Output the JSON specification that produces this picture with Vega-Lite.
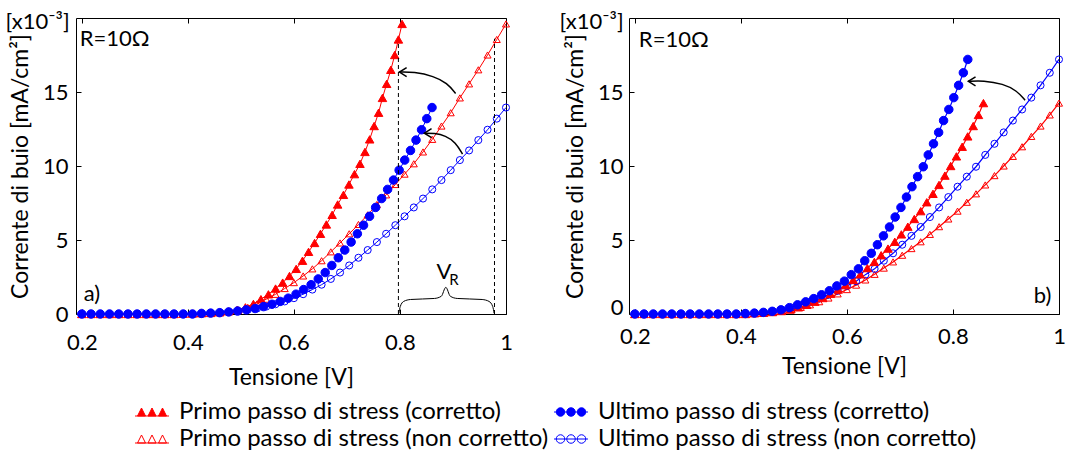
{
"$schema":"https://vega.github.io/schema/vega-lite/v6.json",
"padding":{"left":4,"top":10,"right":5,"bottom":5},
"spacing":46,
"config":{"font":"Lato","view":{"stroke":"black","strokeWidth":1},
"axis":{"grid":false,"domain":false,"tickColor":"black","labelColor":"black","titleColor":"black","labelFont":"Lato","titleFont":"Lato","labelFontSize":22,"titleFontSize":23,"titleFontWeight":"normal","tickSize":5,"offset":-5,"labelFlush":false}},
"resolve":{"scale":{"x":"independent","y":"independent","color":"independent","fill":"shared","stroke":"shared"},"legend":{"fill":"shared","stroke":"shared"}},
"datasets":{
"curves":[
{"p":"a","s":"P0","x":0.2,"y":0},{"p":"a","s":"P0","x":0.2174,"y":0},{"p":"a","s":"P0","x":0.2348,"y":0},{"p":"a","s":"P0","x":0.2522,"y":0},{"p":"a","s":"P0","x":0.2696,"y":0},{"p":"a","s":"P0","x":0.287,"y":0},{"p":"a","s":"P0","x":0.3043,"y":0},{"p":"a","s":"P0","x":0.3217,"y":0},{"p":"a","s":"P0","x":0.3391,"y":0},{"p":"a","s":"P0","x":0.3565,"y":0},{"p":"a","s":"P0","x":0.3739,"y":0},{"p":"a","s":"P0","x":0.3913,"y":0.02},{"p":"a","s":"P0","x":0.4087,"y":0.03},{"p":"a","s":"P0","x":0.4261,"y":0.05},{"p":"a","s":"P0","x":0.4435,"y":0.07},{"p":"a","s":"P0","x":0.4609,"y":0.11},{"p":"a","s":"P0","x":0.4783,"y":0.18},{"p":"a","s":"P0","x":0.4957,"y":0.28},{"p":"a","s":"P0","x":0.513,"y":0.45},{"p":"a","s":"P0","x":0.5304,"y":0.68},{"p":"a","s":"P0","x":0.5478,"y":1.0},{"p":"a","s":"P0","x":0.5652,"y":1.33},{"p":"a","s":"P0","x":0.5826,"y":1.72},{"p":"a","s":"P0","x":0.6,"y":2.12},{"p":"a","s":"P0","x":0.6174,"y":2.57},{"p":"a","s":"P0","x":0.6348,"y":3.05},{"p":"a","s":"P0","x":0.6522,"y":3.6},{"p":"a","s":"P0","x":0.6696,"y":4.2},{"p":"a","s":"P0","x":0.687,"y":4.8},{"p":"a","s":"P0","x":0.7043,"y":5.42},{"p":"a","s":"P0","x":0.7217,"y":6.05},{"p":"a","s":"P0","x":0.7391,"y":6.7},{"p":"a","s":"P0","x":0.7565,"y":7.4},{"p":"a","s":"P0","x":0.7739,"y":8.05},{"p":"a","s":"P0","x":0.7913,"y":8.75},{"p":"a","s":"P0","x":0.8087,"y":9.45},{"p":"a","s":"P0","x":0.8261,"y":10.15},{"p":"a","s":"P0","x":0.8435,"y":10.95},{"p":"a","s":"P0","x":0.8609,"y":11.8},{"p":"a","s":"P0","x":0.8783,"y":12.7},{"p":"a","s":"P0","x":0.8957,"y":13.6},{"p":"a","s":"P0","x":0.913,"y":14.6},{"p":"a","s":"P0","x":0.9304,"y":15.55},{"p":"a","s":"P0","x":0.9478,"y":16.5},{"p":"a","s":"P0","x":0.9652,"y":17.5},{"p":"a","s":"P0","x":0.9826,"y":18.55},{"p":"a","s":"P0","x":1.0,"y":19.6},
{"p":"a","s":"P1","x":0.2,"y":0},{"p":"a","s":"P1","x":0.2174,"y":0},{"p":"a","s":"P1","x":0.2348,"y":0},{"p":"a","s":"P1","x":0.2522,"y":0},{"p":"a","s":"P1","x":0.2696,"y":0},{"p":"a","s":"P1","x":0.287,"y":0},{"p":"a","s":"P1","x":0.3043,"y":0},{"p":"a","s":"P1","x":0.3217,"y":0},{"p":"a","s":"P1","x":0.3391,"y":0},{"p":"a","s":"P1","x":0.3565,"y":0},{"p":"a","s":"P1","x":0.3739,"y":0},{"p":"a","s":"P1","x":0.3911,"y":0.02},{"p":"a","s":"P1","x":0.4084,"y":0.03},{"p":"a","s":"P1","x":0.4256,"y":0.05},{"p":"a","s":"P1","x":0.4428,"y":0.07},{"p":"a","s":"P1","x":0.4598,"y":0.11},{"p":"a","s":"P1","x":0.4765,"y":0.18},{"p":"a","s":"P1","x":0.4929,"y":0.28},{"p":"a","s":"P1","x":0.5085,"y":0.45},{"p":"a","s":"P1","x":0.5236,"y":0.68},{"p":"a","s":"P1","x":0.5378,"y":1.0},{"p":"a","s":"P1","x":0.5519,"y":1.33},{"p":"a","s":"P1","x":0.5654,"y":1.72},{"p":"a","s":"P1","x":0.5788,"y":2.12},{"p":"a","s":"P1","x":0.5917,"y":2.57},{"p":"a","s":"P1","x":0.6043,"y":3.05},{"p":"a","s":"P1","x":0.6162,"y":3.6},{"p":"a","s":"P1","x":0.6276,"y":4.2},{"p":"a","s":"P1","x":0.639,"y":4.8},{"p":"a","s":"P1","x":0.6501,"y":5.42},{"p":"a","s":"P1","x":0.6612,"y":6.05},{"p":"a","s":"P1","x":0.6721,"y":6.7},{"p":"a","s":"P1","x":0.6825,"y":7.4},{"p":"a","s":"P1","x":0.6934,"y":8.05},{"p":"a","s":"P1","x":0.7038,"y":8.75},{"p":"a","s":"P1","x":0.7142,"y":9.45},{"p":"a","s":"P1","x":0.7246,"y":10.15},{"p":"a","s":"P1","x":0.734,"y":10.95},{"p":"a","s":"P1","x":0.7429,"y":11.8},{"p":"a","s":"P1","x":0.7513,"y":12.7},{"p":"a","s":"P1","x":0.7597,"y":13.6},{"p":"a","s":"P1","x":0.767,"y":14.6},{"p":"a","s":"P1","x":0.7749,"y":15.55},{"p":"a","s":"P1","x":0.7828,"y":16.5},{"p":"a","s":"P1","x":0.7902,"y":17.5},{"p":"a","s":"P1","x":0.7971,"y":18.55},{"p":"a","s":"P1","x":0.804,"y":19.6},
{"p":"a","s":"U0","x":0.2,"y":0},{"p":"a","s":"U0","x":0.2174,"y":0},{"p":"a","s":"U0","x":0.2348,"y":0},{"p":"a","s":"U0","x":0.2522,"y":0},{"p":"a","s":"U0","x":0.2696,"y":0},{"p":"a","s":"U0","x":0.287,"y":0},{"p":"a","s":"U0","x":0.3043,"y":0},{"p":"a","s":"U0","x":0.3217,"y":0},{"p":"a","s":"U0","x":0.3391,"y":0},{"p":"a","s":"U0","x":0.3565,"y":0},{"p":"a","s":"U0","x":0.3739,"y":0},{"p":"a","s":"U0","x":0.3913,"y":0},{"p":"a","s":"U0","x":0.4087,"y":0},{"p":"a","s":"U0","x":0.4261,"y":0.04},{"p":"a","s":"U0","x":0.4435,"y":0.06},{"p":"a","s":"U0","x":0.4609,"y":0.09},{"p":"a","s":"U0","x":0.4783,"y":0.14},{"p":"a","s":"U0","x":0.4957,"y":0.2},{"p":"a","s":"U0","x":0.513,"y":0.28},{"p":"a","s":"U0","x":0.5304,"y":0.37},{"p":"a","s":"U0","x":0.5478,"y":0.5},{"p":"a","s":"U0","x":0.5652,"y":0.66},{"p":"a","s":"U0","x":0.5826,"y":0.85},{"p":"a","s":"U0","x":0.6,"y":1.07},{"p":"a","s":"U0","x":0.6174,"y":1.34},{"p":"a","s":"U0","x":0.6348,"y":1.65},{"p":"a","s":"U0","x":0.6522,"y":1.98},{"p":"a","s":"U0","x":0.6696,"y":2.37},{"p":"a","s":"U0","x":0.687,"y":2.8},{"p":"a","s":"U0","x":0.7043,"y":3.28},{"p":"a","s":"U0","x":0.7217,"y":3.8},{"p":"a","s":"U0","x":0.7391,"y":4.32},{"p":"a","s":"U0","x":0.7565,"y":4.86},{"p":"a","s":"U0","x":0.7739,"y":5.42},{"p":"a","s":"U0","x":0.7913,"y":6.0},{"p":"a","s":"U0","x":0.8087,"y":6.6},{"p":"a","s":"U0","x":0.8261,"y":7.2},{"p":"a","s":"U0","x":0.8435,"y":7.8},{"p":"a","s":"U0","x":0.8609,"y":8.42},{"p":"a","s":"U0","x":0.8783,"y":9.05},{"p":"a","s":"U0","x":0.8957,"y":9.72},{"p":"a","s":"U0","x":0.913,"y":10.4},{"p":"a","s":"U0","x":0.9304,"y":11.05},{"p":"a","s":"U0","x":0.9478,"y":11.75},{"p":"a","s":"U0","x":0.9652,"y":12.45},{"p":"a","s":"U0","x":0.9826,"y":13.2},{"p":"a","s":"U0","x":1.0,"y":13.95},
{"p":"a","s":"U1","x":0.2,"y":0},{"p":"a","s":"U1","x":0.2174,"y":0},{"p":"a","s":"U1","x":0.2348,"y":0},{"p":"a","s":"U1","x":0.2522,"y":0},{"p":"a","s":"U1","x":0.2696,"y":0},{"p":"a","s":"U1","x":0.287,"y":0},{"p":"a","s":"U1","x":0.3043,"y":0},{"p":"a","s":"U1","x":0.3217,"y":0},{"p":"a","s":"U1","x":0.3391,"y":0},{"p":"a","s":"U1","x":0.3565,"y":0},{"p":"a","s":"U1","x":0.3739,"y":0},{"p":"a","s":"U1","x":0.3913,"y":0},{"p":"a","s":"U1","x":0.4087,"y":0},{"p":"a","s":"U1","x":0.4257,"y":0.04},{"p":"a","s":"U1","x":0.4429,"y":0.06},{"p":"a","s":"U1","x":0.46,"y":0.09},{"p":"a","s":"U1","x":0.4769,"y":0.14},{"p":"a","s":"U1","x":0.4937,"y":0.2},{"p":"a","s":"U1","x":0.5102,"y":0.28},{"p":"a","s":"U1","x":0.5267,"y":0.37},{"p":"a","s":"U1","x":0.5428,"y":0.5},{"p":"a","s":"U1","x":0.5586,"y":0.66},{"p":"a","s":"U1","x":0.5741,"y":0.85},{"p":"a","s":"U1","x":0.5893,"y":1.07},{"p":"a","s":"U1","x":0.604,"y":1.34},{"p":"a","s":"U1","x":0.6183,"y":1.65},{"p":"a","s":"U1","x":0.6324,"y":1.98},{"p":"a","s":"U1","x":0.6459,"y":2.37},{"p":"a","s":"U1","x":0.659,"y":2.8},{"p":"a","s":"U1","x":0.6715,"y":3.28},{"p":"a","s":"U1","x":0.6837,"y":3.8},{"p":"a","s":"U1","x":0.6959,"y":4.32},{"p":"a","s":"U1","x":0.7079,"y":4.86},{"p":"a","s":"U1","x":0.7197,"y":5.42},{"p":"a","s":"U1","x":0.7313,"y":6.0},{"p":"a","s":"U1","x":0.7427,"y":6.6},{"p":"a","s":"U1","x":0.7541,"y":7.2},{"p":"a","s":"U1","x":0.7655,"y":7.8},{"p":"a","s":"U1","x":0.7767,"y":8.42},{"p":"a","s":"U1","x":0.7878,"y":9.05},{"p":"a","s":"U1","x":0.7985,"y":9.72},{"p":"a","s":"U1","x":0.809,"y":10.4},{"p":"a","s":"U1","x":0.8199,"y":11.05},{"p":"a","s":"U1","x":0.8303,"y":11.75},{"p":"a","s":"U1","x":0.8407,"y":12.45},{"p":"a","s":"U1","x":0.8506,"y":13.2},{"p":"a","s":"U1","x":0.8605,"y":13.95},
{"p":"b","s":"P0","x":0.2,"y":0},{"p":"b","s":"P0","x":0.2174,"y":0},{"p":"b","s":"P0","x":0.2348,"y":0},{"p":"b","s":"P0","x":0.2522,"y":0},{"p":"b","s":"P0","x":0.2696,"y":0},{"p":"b","s":"P0","x":0.287,"y":0},{"p":"b","s":"P0","x":0.3043,"y":0},{"p":"b","s":"P0","x":0.3217,"y":0},{"p":"b","s":"P0","x":0.3391,"y":0},{"p":"b","s":"P0","x":0.3565,"y":0},{"p":"b","s":"P0","x":0.3739,"y":0},{"p":"b","s":"P0","x":0.3913,"y":0},{"p":"b","s":"P0","x":0.4087,"y":0},{"p":"b","s":"P0","x":0.4261,"y":0.05},{"p":"b","s":"P0","x":0.4435,"y":0.08},{"p":"b","s":"P0","x":0.4609,"y":0.13},{"p":"b","s":"P0","x":0.4783,"y":0.2},{"p":"b","s":"P0","x":0.4957,"y":0.3},{"p":"b","s":"P0","x":0.513,"y":0.45},{"p":"b","s":"P0","x":0.5304,"y":0.62},{"p":"b","s":"P0","x":0.5478,"y":0.83},{"p":"b","s":"P0","x":0.5652,"y":1.08},{"p":"b","s":"P0","x":0.5826,"y":1.36},{"p":"b","s":"P0","x":0.6,"y":1.65},{"p":"b","s":"P0","x":0.6174,"y":1.95},{"p":"b","s":"P0","x":0.6348,"y":2.3},{"p":"b","s":"P0","x":0.6522,"y":2.68},{"p":"b","s":"P0","x":0.6696,"y":3.1},{"p":"b","s":"P0","x":0.687,"y":3.52},{"p":"b","s":"P0","x":0.7043,"y":3.97},{"p":"b","s":"P0","x":0.7217,"y":4.42},{"p":"b","s":"P0","x":0.7391,"y":4.88},{"p":"b","s":"P0","x":0.7565,"y":5.38},{"p":"b","s":"P0","x":0.7739,"y":5.9},{"p":"b","s":"P0","x":0.7913,"y":6.42},{"p":"b","s":"P0","x":0.8087,"y":6.95},{"p":"b","s":"P0","x":0.8261,"y":7.55},{"p":"b","s":"P0","x":0.8435,"y":8.12},{"p":"b","s":"P0","x":0.8609,"y":8.72},{"p":"b","s":"P0","x":0.8783,"y":9.35},{"p":"b","s":"P0","x":0.8957,"y":10.0},{"p":"b","s":"P0","x":0.913,"y":10.65},{"p":"b","s":"P0","x":0.9304,"y":11.3},{"p":"b","s":"P0","x":0.9478,"y":12.0},{"p":"b","s":"P0","x":0.9652,"y":12.7},{"p":"b","s":"P0","x":0.9826,"y":13.45},{"p":"b","s":"P0","x":1.0,"y":14.25},
{"p":"b","s":"P1","x":0.2,"y":0},{"p":"b","s":"P1","x":0.2174,"y":0},{"p":"b","s":"P1","x":0.2348,"y":0},{"p":"b","s":"P1","x":0.2522,"y":0},{"p":"b","s":"P1","x":0.2696,"y":0},{"p":"b","s":"P1","x":0.287,"y":0},{"p":"b","s":"P1","x":0.3043,"y":0},{"p":"b","s":"P1","x":0.3217,"y":0},{"p":"b","s":"P1","x":0.3391,"y":0},{"p":"b","s":"P1","x":0.3565,"y":0},{"p":"b","s":"P1","x":0.3739,"y":0},{"p":"b","s":"P1","x":0.3913,"y":0},{"p":"b","s":"P1","x":0.4087,"y":0},{"p":"b","s":"P1","x":0.4256,"y":0.05},{"p":"b","s":"P1","x":0.4427,"y":0.08},{"p":"b","s":"P1","x":0.4596,"y":0.13},{"p":"b","s":"P1","x":0.4763,"y":0.2},{"p":"b","s":"P1","x":0.4927,"y":0.3},{"p":"b","s":"P1","x":0.5085,"y":0.45},{"p":"b","s":"P1","x":0.5242,"y":0.62},{"p":"b","s":"P1","x":0.5395,"y":0.83},{"p":"b","s":"P1","x":0.5544,"y":1.08},{"p":"b","s":"P1","x":0.569,"y":1.36},{"p":"b","s":"P1","x":0.5835,"y":1.65},{"p":"b","s":"P1","x":0.5979,"y":1.95},{"p":"b","s":"P1","x":0.6118,"y":2.3},{"p":"b","s":"P1","x":0.6254,"y":2.68},{"p":"b","s":"P1","x":0.6386,"y":3.1},{"p":"b","s":"P1","x":0.6518,"y":3.52},{"p":"b","s":"P1","x":0.6646,"y":3.97},{"p":"b","s":"P1","x":0.6775,"y":4.42},{"p":"b","s":"P1","x":0.6903,"y":4.88},{"p":"b","s":"P1","x":0.7027,"y":5.38},{"p":"b","s":"P1","x":0.7149,"y":5.9},{"p":"b","s":"P1","x":0.7271,"y":6.42},{"p":"b","s":"P1","x":0.7392,"y":6.95},{"p":"b","s":"P1","x":0.7506,"y":7.55},{"p":"b","s":"P1","x":0.7623,"y":8.12},{"p":"b","s":"P1","x":0.7737,"y":8.72},{"p":"b","s":"P1","x":0.7848,"y":9.35},{"p":"b","s":"P1","x":0.7957,"y":10.0},{"p":"b","s":"P1","x":0.8065,"y":10.65},{"p":"b","s":"P1","x":0.8174,"y":11.3},{"p":"b","s":"P1","x":0.8278,"y":12.0},{"p":"b","s":"P1","x":0.8382,"y":12.7},{"p":"b","s":"P1","x":0.8481,"y":13.45},{"p":"b","s":"P1","x":0.8575,"y":14.25},
{"p":"b","s":"U0","x":0.2,"y":0},{"p":"b","s":"U0","x":0.2174,"y":0},{"p":"b","s":"U0","x":0.2348,"y":0},{"p":"b","s":"U0","x":0.2522,"y":0},{"p":"b","s":"U0","x":0.2696,"y":0},{"p":"b","s":"U0","x":0.287,"y":0},{"p":"b","s":"U0","x":0.3043,"y":0},{"p":"b","s":"U0","x":0.3217,"y":0},{"p":"b","s":"U0","x":0.3391,"y":0},{"p":"b","s":"U0","x":0.3565,"y":0},{"p":"b","s":"U0","x":0.3739,"y":0},{"p":"b","s":"U0","x":0.3913,"y":0},{"p":"b","s":"U0","x":0.4087,"y":0.03},{"p":"b","s":"U0","x":0.4261,"y":0.06},{"p":"b","s":"U0","x":0.4435,"y":0.11},{"p":"b","s":"U0","x":0.4609,"y":0.18},{"p":"b","s":"U0","x":0.4783,"y":0.28},{"p":"b","s":"U0","x":0.4957,"y":0.43},{"p":"b","s":"U0","x":0.513,"y":0.62},{"p":"b","s":"U0","x":0.5304,"y":0.82},{"p":"b","s":"U0","x":0.5478,"y":1.04},{"p":"b","s":"U0","x":0.5652,"y":1.3},{"p":"b","s":"U0","x":0.5826,"y":1.57},{"p":"b","s":"U0","x":0.6,"y":1.9},{"p":"b","s":"U0","x":0.6174,"y":2.22},{"p":"b","s":"U0","x":0.6348,"y":2.66},{"p":"b","s":"U0","x":0.6522,"y":3.05},{"p":"b","s":"U0","x":0.6696,"y":3.6},{"p":"b","s":"U0","x":0.687,"y":4.1},{"p":"b","s":"U0","x":0.7043,"y":4.68},{"p":"b","s":"U0","x":0.7217,"y":5.28},{"p":"b","s":"U0","x":0.7391,"y":5.88},{"p":"b","s":"U0","x":0.7565,"y":6.55},{"p":"b","s":"U0","x":0.7739,"y":7.2},{"p":"b","s":"U0","x":0.7913,"y":7.9},{"p":"b","s":"U0","x":0.8087,"y":8.6},{"p":"b","s":"U0","x":0.8261,"y":9.28},{"p":"b","s":"U0","x":0.8435,"y":9.95},{"p":"b","s":"U0","x":0.8609,"y":10.75},{"p":"b","s":"U0","x":0.8783,"y":11.5},{"p":"b","s":"U0","x":0.8957,"y":12.27},{"p":"b","s":"U0","x":0.913,"y":13.07},{"p":"b","s":"U0","x":0.9304,"y":13.82},{"p":"b","s":"U0","x":0.9478,"y":14.62},{"p":"b","s":"U0","x":0.9652,"y":15.45},{"p":"b","s":"U0","x":0.9826,"y":16.3},{"p":"b","s":"U0","x":1.0,"y":17.2},
{"p":"b","s":"U1","x":0.2,"y":0},{"p":"b","s":"U1","x":0.2174,"y":0},{"p":"b","s":"U1","x":0.2348,"y":0},{"p":"b","s":"U1","x":0.2522,"y":0},{"p":"b","s":"U1","x":0.2696,"y":0},{"p":"b","s":"U1","x":0.287,"y":0},{"p":"b","s":"U1","x":0.3043,"y":0},{"p":"b","s":"U1","x":0.3217,"y":0},{"p":"b","s":"U1","x":0.3391,"y":0},{"p":"b","s":"U1","x":0.3565,"y":0},{"p":"b","s":"U1","x":0.3739,"y":0},{"p":"b","s":"U1","x":0.3913,"y":0},{"p":"b","s":"U1","x":0.4084,"y":0.03},{"p":"b","s":"U1","x":0.4255,"y":0.06},{"p":"b","s":"U1","x":0.4424,"y":0.11},{"p":"b","s":"U1","x":0.4591,"y":0.18},{"p":"b","s":"U1","x":0.4755,"y":0.28},{"p":"b","s":"U1","x":0.4914,"y":0.43},{"p":"b","s":"U1","x":0.5068,"y":0.62},{"p":"b","s":"U1","x":0.5222,"y":0.82},{"p":"b","s":"U1","x":0.5374,"y":1.04},{"p":"b","s":"U1","x":0.5522,"y":1.3},{"p":"b","s":"U1","x":0.5669,"y":1.57},{"p":"b","s":"U1","x":0.581,"y":1.9},{"p":"b","s":"U1","x":0.5952,"y":2.22},{"p":"b","s":"U1","x":0.6082,"y":2.66},{"p":"b","s":"U1","x":0.6217,"y":3.05},{"p":"b","s":"U1","x":0.6336,"y":3.6},{"p":"b","s":"U1","x":0.646,"y":4.1},{"p":"b","s":"U1","x":0.6575,"y":4.68},{"p":"b","s":"U1","x":0.6689,"y":5.28},{"p":"b","s":"U1","x":0.6803,"y":5.88},{"p":"b","s":"U1","x":0.691,"y":6.55},{"p":"b","s":"U1","x":0.7019,"y":7.2},{"p":"b","s":"U1","x":0.7123,"y":7.9},{"p":"b","s":"U1","x":0.7227,"y":8.6},{"p":"b","s":"U1","x":0.7333,"y":9.28},{"p":"b","s":"U1","x":0.744,"y":9.95},{"p":"b","s":"U1","x":0.7534,"y":10.75},{"p":"b","s":"U1","x":0.7633,"y":11.5},{"p":"b","s":"U1","x":0.773,"y":12.27},{"p":"b","s":"U1","x":0.7823,"y":13.07},{"p":"b","s":"U1","x":0.7922,"y":13.82},{"p":"b","s":"U1","x":0.8016,"y":14.62},{"p":"b","s":"U1","x":0.8107,"y":15.45},{"p":"b","s":"U1","x":0.8196,"y":16.3},{"p":"b","s":"U1","x":0.828,"y":17.2}
],
"ann":[
{"p":"a","g":"A1","o":1,"x":0.905,"y":14.9},{"p":"a","g":"A1","o":2,"x":0.889,"y":15.6},{"p":"a","g":"A1","o":3,"x":0.864,"y":16.07},{"p":"a","g":"A1","o":4,"x":0.826,"y":16.36},{"p":"a","g":"A1","o":5,"x":0.799,"y":16.35},
{"p":"a","g":"A2","o":1,"x":0.918,"y":10.8},{"p":"a","g":"A2","o":2,"x":0.905,"y":11.6},{"p":"a","g":"A2","o":3,"x":0.886,"y":12.05},{"p":"a","g":"A2","o":4,"x":0.865,"y":12.22},{"p":"a","g":"A2","o":5,"x":0.846,"y":12.22},
{"p":"b","g":"A3","o":1,"x":0.936,"y":14.45},{"p":"b","g":"A3","o":2,"x":0.92,"y":15.1},{"p":"b","g":"A3","o":3,"x":0.895,"y":15.55},{"p":"b","g":"A3","o":4,"x":0.857,"y":15.78},{"p":"b","g":"A3","o":5,"x":0.829,"y":15.72}
],
"brace":[
{"p":"a","o":1,"x":0.798,"y":0.05},{"p":"a","o":2,"x":0.8005,"y":0.5},{"p":"a","o":3,"x":0.807,"y":0.85},{"p":"a","o":4,"x":0.82,"y":0.98},{"p":"a","o":5,"x":0.865,"y":1.05},{"p":"a","o":6,"x":0.878,"y":1.2},{"p":"a","o":7,"x":0.8865,"y":1.8},{"p":"a","o":8,"x":0.895,"y":1.2},{"p":"a","o":9,"x":0.908,"y":1.05},{"p":"a","o":10,"x":0.955,"y":0.98},{"p":"a","o":11,"x":0.968,"y":0.85},{"p":"a","o":12,"x":0.975,"y":0.5},{"p":"a","o":13,"x":0.9775,"y":0.05}
],
"heads":[{"p":"a","x":0.799,"y":16.35},{"p":"a","x":0.846,"y":12.22},{"p":"b","x":0.829,"y":15.72}],
"vr":[{"p":"a","x":0.7971,"y":0,"y2":18.3},{"p":"a","x":0.9783,"y":0,"y2":18.6}],
"txt":[
{"p":"a","k":"L","t":"R=10Ω","x":0.196,"y":18.55},{"p":"b","k":"L","t":"R=10Ω","x":0.2076,"y":18.5},
{"p":"a","k":"C","t":"a)","x":0.219,"y":1.35},{"p":"b","k":"C","t":"b)","x":0.969,"y":1.2},
{"p":"a","k":"U","t":"[x10⁻³]","x":0.177,"y":19.75},{"p":"b","k":"U","t":"[x10⁻³]","x":0.179,"y":19.7},
{"p":"a","k":"V","t":"V","x":0.883,"y":2.85},{"p":"a","k":"S","t":"R","x":0.902,"y":2.3}
]
},
"hconcat":[
{"width":430,"height":296,
"resolve":{"axis":{"x":"independent","y":"independent"}},
"layer":[
{"data":{"name":"curves"},"transform":[{"filter":"datum.p=='a'"}],"mark":{"type":"line","strokeWidth":1},
"encoding":{"x":{"field":"x","type":"quantitative","scale":{"domain":[0.189,1.0],"nice":false,"zero":false},"axis":{"values":[0.2,0.4,0.6,0.8,1],"format":"~g","title":"Tensione [V]","labelPadding":18,"titlePadding":13}},
"y":{"field":"y","type":"quantitative","scale":{"domain":[0,20],"nice":false,"zero":false},"axis":{"values":[0,5,10,15],"title":"Corrente di buio [mA/cm²]","labelPadding":8,"titlePadding":10}},
"detail":{"field":"s"},
"color":{"field":"s","type":"nominal","scale":{"domain":["P1","U1","P0","U0","none"],"range":["#ff0000","#0000ff","#ff0000","#0000ff","#000000"]},"legend":null}}},
{"data":{"name":"curves"},"transform":[{"filter":"datum.p=='a' && datum.s=='P0'"}],"mark":{"type":"point","shape":"triangle-up","size":50,"strokeWidth":1,"opacity":1},
"encoding":{"x":{"field":"x","type":"quantitative","axis":null},"y":{"field":"y","type":"quantitative","axis":null},
"fill":{"field":"s","type":"nominal","scale":{"domain":["P1","U1","P0","U0"],"range":["#ff0000","#0000ff","transparent","transparent"]},
"legend":{"orient":"none","legendX":64,"legendY":382,"direction":"horizontal","columns":2,"title":null,"padding":0,"labelFontSize":24,"labelFont":"Lato","labelColor":"black","labelLimit":0,"symbolSize":100,"symbolStrokeWidth":1,"labelOffset":15,"columnPadding":3,"rowPadding":3,
"symbolType":{"expr":"(datum.value=='P1'||datum.value=='P0') ? 'M-2.9,0.8L-2.1,-0.8L-1.3,0.8Z M-0.8,0.8L0,-0.8L0.8,0.8Z M1.3,0.8L2.1,-0.8L2.9,0.8Z M-3.4,0.8L3.4,0.8' : 'M-2.95,0A0.85,0.85 0 1,0 -1.25,0A0.85,0.85 0 1,0 -2.95,0Z M-0.85,0A0.85,0.85 0 1,0 0.85,0A0.85,0.85 0 1,0 -0.85,0Z M1.25,0A0.85,0.85 0 1,0 2.95,0A0.85,0.85 0 1,0 1.25,0Z M-3.4,0L3.4,0'"},
"labelExpr":"datum.value=='P1' ? 'Primo passo di stress (corretto)' : datum.value=='P0' ? 'Primo passo di stress (non corretto)' : datum.value=='U1' ? 'Ultimo passo di stress (corretto)' : 'Ultimo passo di stress (non corretto)'"}},
"stroke":{"field":"s","type":"nominal","scale":{"domain":["P1","U1","P0","U0"],"range":["#ff0000","#0000ff","#ff0000","#0000ff"]}}}},
{"data":{"name":"curves"},"transform":[{"filter":"datum.p=='a' && datum.s=='U0'"}],"mark":{"type":"point","shape":"circle","size":50,"strokeWidth":1,"opacity":1},
"encoding":{"x":{"field":"x","type":"quantitative","axis":null},"y":{"field":"y","type":"quantitative","axis":null},"fill":{"field":"s","type":"nominal"},"stroke":{"field":"s","type":"nominal"}}},
{"data":{"name":"curves"},"transform":[{"filter":"datum.p=='a' && datum.s=='P1'"}],"mark":{"type":"point","shape":"triangle-up","size":72,"strokeWidth":1,"opacity":1},
"encoding":{"x":{"field":"x","type":"quantitative","axis":null},"y":{"field":"y","type":"quantitative","axis":null},"fill":{"field":"s","type":"nominal"},"stroke":{"field":"s","type":"nominal"}}},
{"data":{"name":"curves"},"transform":[{"filter":"datum.p=='a' && datum.s=='U1'"}],"mark":{"type":"point","shape":"circle","size":72,"strokeWidth":1,"opacity":1},
"encoding":{"x":{"field":"x","type":"quantitative","axis":null},"y":{"field":"y","type":"quantitative","axis":null},"fill":{"field":"s","type":"nominal"},"stroke":{"field":"s","type":"nominal"}}},
{"data":{"name":"vr"},"transform":[{"filter":"datum.p=='a'"}],"mark":{"type":"rule","strokeDash":[4,3],"color":"black","strokeWidth":1},
"encoding":{"x":{"field":"x","type":"quantitative","axis":null},"y":{"field":"y","type":"quantitative","axis":null},"y2":{"field":"y2"}}},
{"data":{"name":"ann"},"transform":[{"filter":"datum.p=='a'"}],"mark":{"type":"line","interpolate":"basis","color":"black","strokeWidth":1.5},
"encoding":{"x":{"field":"x","type":"quantitative","axis":null},"y":{"field":"y","type":"quantitative","axis":null},"detail":{"field":"g"},"order":{"field":"o"}}},
{"data":{"name":"brace"},"transform":[{"filter":"datum.p=='a'"}],"mark":{"type":"line","interpolate":"monotone","color":"black","strokeWidth":1},
"encoding":{"x":{"field":"x","type":"quantitative","axis":null},"y":{"field":"y","type":"quantitative","axis":null},"order":{"field":"o"}}},
{"data":{"name":"heads"},"transform":[{"filter":"datum.p=='a'"}],"mark":{"type":"point","shape":"M1.6,-1L0,0L1.6,1","size":81,"filled":false,"color":"black","strokeWidth":1.5,"opacity":1},
"encoding":{"x":{"field":"x","type":"quantitative","axis":null},"y":{"field":"y","type":"quantitative","axis":null}}},
{"data":{"name":"txt"},"transform":[{"filter":"datum.p=='a' && datum.k=='L'"}],"mark":{"type":"text","align":"left","baseline":"middle","fontSize":22,"font":"Lato","color":"black"},
"encoding":{"x":{"field":"x","type":"quantitative","axis":null},"y":{"field":"y","type":"quantitative","axis":null},"text":{"field":"t"}}},
{"data":{"name":"txt"},"transform":[{"filter":"datum.p=='a' && datum.k=='C'"}],"mark":{"type":"text","align":"center","baseline":"middle","fontSize":22,"font":"Lato","color":"black"},
"encoding":{"x":{"field":"x","type":"quantitative","axis":null},"y":{"field":"y","type":"quantitative","axis":null},"text":{"field":"t"}}},
{"data":{"name":"txt"},"transform":[{"filter":"datum.p=='a' && datum.k=='U'"}],"mark":{"type":"text","align":"right","baseline":"middle","fontSize":22,"font":"Lato","color":"black"},
"encoding":{"x":{"field":"x","type":"quantitative","axis":null},"y":{"field":"y","type":"quantitative","axis":null},"text":{"field":"t"}}},
{"data":{"name":"txt"},"transform":[{"filter":"datum.p=='a' && datum.k=='V'"}],"mark":{"type":"text","align":"center","baseline":"middle","fontSize":22,"font":"Lato","color":"black"},
"encoding":{"x":{"field":"x","type":"quantitative","axis":null},"y":{"field":"y","type":"quantitative","axis":null},"text":{"field":"t"}}},
{"data":{"name":"txt"},"transform":[{"filter":"datum.p=='a' && datum.k=='S'"}],"mark":{"type":"text","align":"center","baseline":"middle","fontSize":15,"font":"Lato","color":"black"},
"encoding":{"x":{"field":"x","type":"quantitative","axis":null},"y":{"field":"y","type":"quantitative","axis":null},"text":{"field":"t"}}},
{"data":{"name":"heads"},"transform":[{"filter":"datum.p=='a'"}],"mark":{"type":"point","opacity":0},
"encoding":{"x":{"field":"x","type":"quantitative","axis":{"orient":"top","values":[0.2,0.4,0.6,0.8,1],"labels":false,"title":null}},"y":{"field":"y","type":"quantitative","axis":{"orient":"right","values":[0,5,10,15],"labels":false,"title":null}}}}
]},
{"width":430,"height":296,
"resolve":{"axis":{"x":"independent","y":"independent"}},
"layer":[
{"data":{"name":"curves"},"transform":[{"filter":"datum.p=='b'"}],"mark":{"type":"line","strokeWidth":1.2},
"encoding":{"x":{"field":"x","type":"quantitative","scale":{"domain":[0.189,1.0],"nice":false,"zero":false},"axis":{"values":[0.2,0.4,0.6,0.8,1],"format":"~g","title":"Tensione [V]","labelPadding":12,"titlePadding":8}},
"y":{"field":"y","type":"quantitative","scale":{"domain":[0,20],"nice":false,"zero":false},"axis":{"values":[0,5,10,15],"title":"Corrente di buio [mA/cm²]","labelPadding":6,"titlePadding":10,"labelBaseline":{"condition":{"test":"datum.value==0","value":"alphabetic"},"value":"middle"}}},
"detail":{"field":"s"},
"color":{"field":"s","type":"nominal","scale":{"domain":["P1","U1","P0","U0","none"],"range":["#ff0000","#0000ff","#ff0000","#0000ff","#000000"]},"legend":null}}},
{"data":{"name":"curves"},"transform":[{"filter":"datum.p=='b' && datum.s=='P0'"}],"mark":{"type":"point","shape":"triangle-up","size":50,"strokeWidth":1,"opacity":1},
"encoding":{"x":{"field":"x","type":"quantitative","axis":null},"y":{"field":"y","type":"quantitative","axis":null},
"fill":{"field":"s","type":"nominal","scale":{"domain":["P1","U1","P0","U0"],"range":["#ff0000","#0000ff","transparent","transparent"]}},
"stroke":{"field":"s","type":"nominal","scale":{"domain":["P1","U1","P0","U0"],"range":["#ff0000","#0000ff","#ff0000","#0000ff"]}}}},
{"data":{"name":"curves"},"transform":[{"filter":"datum.p=='b' && datum.s=='U0'"}],"mark":{"type":"point","shape":"circle","size":50,"strokeWidth":1,"opacity":1},
"encoding":{"x":{"field":"x","type":"quantitative","axis":null},"y":{"field":"y","type":"quantitative","axis":null},"fill":{"field":"s","type":"nominal"},"stroke":{"field":"s","type":"nominal"}}},
{"data":{"name":"curves"},"transform":[{"filter":"datum.p=='b' && datum.s=='P1'"}],"mark":{"type":"point","shape":"triangle-up","size":72,"strokeWidth":1,"opacity":1},
"encoding":{"x":{"field":"x","type":"quantitative","axis":null},"y":{"field":"y","type":"quantitative","axis":null},"fill":{"field":"s","type":"nominal"},"stroke":{"field":"s","type":"nominal"}}},
{"data":{"name":"curves"},"transform":[{"filter":"datum.p=='b' && datum.s=='U1'"}],"mark":{"type":"point","shape":"circle","size":72,"strokeWidth":1,"opacity":1},
"encoding":{"x":{"field":"x","type":"quantitative","axis":null},"y":{"field":"y","type":"quantitative","axis":null},"fill":{"field":"s","type":"nominal"},"stroke":{"field":"s","type":"nominal"}}},
{"data":{"name":"ann"},"transform":[{"filter":"datum.p=='b'"}],"mark":{"type":"line","interpolate":"basis","color":"black","strokeWidth":1.5},
"encoding":{"x":{"field":"x","type":"quantitative","axis":null},"y":{"field":"y","type":"quantitative","axis":null},"detail":{"field":"g"},"order":{"field":"o"}}},
{"data":{"name":"heads"},"transform":[{"filter":"datum.p=='b'"}],"mark":{"type":"point","shape":"M1.6,-1L0,0L1.6,1","size":81,"filled":false,"color":"black","strokeWidth":1.5,"opacity":1},
"encoding":{"x":{"field":"x","type":"quantitative","axis":null},"y":{"field":"y","type":"quantitative","axis":null}}},
{"data":{"name":"txt"},"transform":[{"filter":"datum.p=='b' && datum.k=='L'"}],"mark":{"type":"text","align":"left","baseline":"middle","fontSize":22,"font":"Lato","color":"black"},
"encoding":{"x":{"field":"x","type":"quantitative","axis":null},"y":{"field":"y","type":"quantitative","axis":null},"text":{"field":"t"}}},
{"data":{"name":"txt"},"transform":[{"filter":"datum.p=='b' && datum.k=='C'"}],"mark":{"type":"text","align":"center","baseline":"middle","fontSize":22,"font":"Lato","color":"black"},
"encoding":{"x":{"field":"x","type":"quantitative","axis":null},"y":{"field":"y","type":"quantitative","axis":null},"text":{"field":"t"}}},
{"data":{"name":"txt"},"transform":[{"filter":"datum.p=='b' && datum.k=='U'"}],"mark":{"type":"text","align":"right","baseline":"middle","fontSize":22,"font":"Lato","color":"black"},
"encoding":{"x":{"field":"x","type":"quantitative","axis":null},"y":{"field":"y","type":"quantitative","axis":null},"text":{"field":"t"}}},
{"data":{"name":"heads"},"transform":[{"filter":"datum.p=='b'"}],"mark":{"type":"point","opacity":0},
"encoding":{"x":{"field":"x","type":"quantitative","axis":{"orient":"top","values":[0.2,0.4,0.6,0.8,1],"labels":false,"title":null}},"y":{"field":"y","type":"quantitative","axis":{"orient":"right","values":[0,5,10,15],"labels":false,"title":null}}}}
]}
]
}
